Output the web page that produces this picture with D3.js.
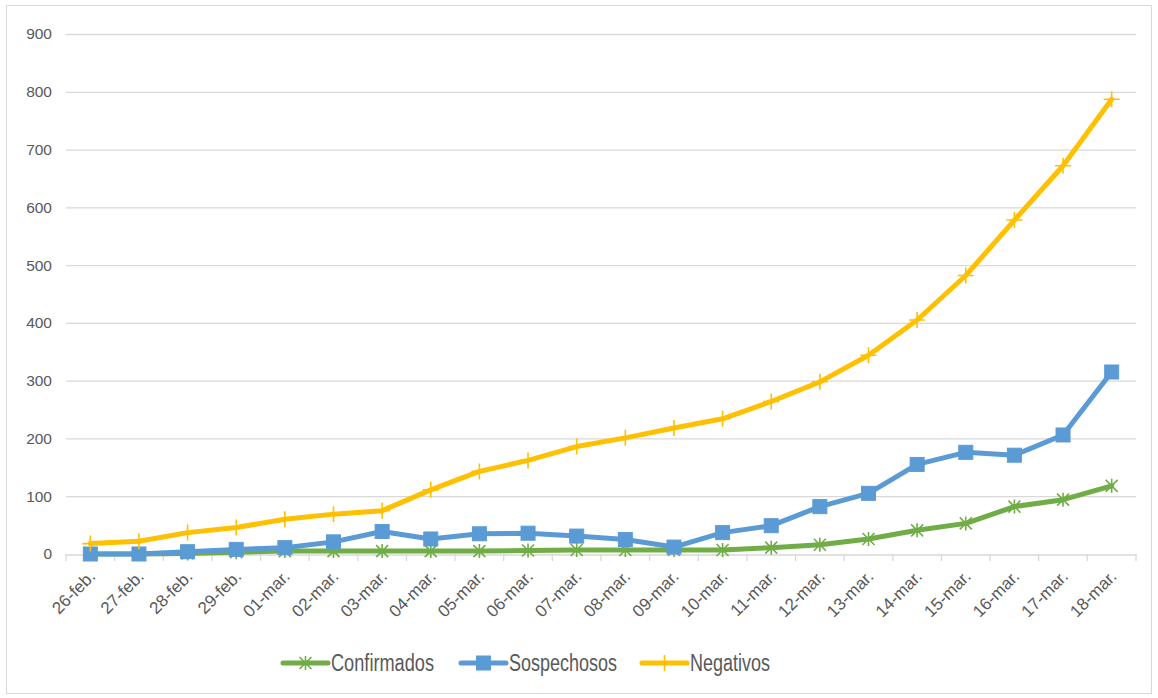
<html>
<script src='https://d3js.org/d3.v7.min.js'></script>
<style>
body {margin:0; background:white;}
.tick text {font-family: 'Liberation Sans', Arial, sans-serif; fill:#595959;}
.legend text {font-family: 'Liberation Sans', Arial, sans-serif; fill:#595959;}
</style>
<body>
<svg width=1158 height=698></svg>
<script>
var dates = ['26-feb.','27-feb.','28-feb.','29-feb.','01-mar.','02-mar.','03-mar.','04-mar.','05-mar.','06-mar.','07-mar.',
  '08-mar.','09-mar.','10-mar.','11-mar.','12-mar.','13-mar.','14-mar.','15-mar.','16-mar.','17-mar.','18-mar.'];
var confirmados = [0,0,1,3,5,5,5,5,5,6,7,7,7,7,11,16,26,41,53,82,94,118];
var sospechosos = [0,0,4,8,11,21,39,26,35,36,31,25,12,37,49,82,105,155,176,171,206,315];
var negativos = [18,22,37,46,60,69,75,111,143,162,186,201,218,234,264,298,344,405,482,578,672,787];
var yTicks = [0,100,200,300,400,500,600,700,800,900];

var series = [
  {name:'Confirmados', values:confirmados, color:'#70ad47', marker:'star'},
  {name:'Sospechosos', values:sospechosos, color:'#5b9bd5', marker:'square'},
  {name:'Negativos', values:negativos, color:'#ffc000', marker:'plus'}
];

var svg = d3.select('svg');
svg.append('rect').attr('x',6.5).attr('y',5.5).attr('width',1145).attr('height',688)
  .attr('fill','white').attr('stroke','#d9d9d9');

var x = d3.scaleBand().domain(dates).range([66,1136]);
var y = d3.scaleLinear().domain([0,900]).range([554,34]);

// grid
svg.append('g').selectAll('line').data(yTicks.filter(function(d){return d>0;})).enter()
  .append('line')
  .attr('x1',66).attr('x2',1136)
  .attr('y1',function(d){return y(d)+0.5;}).attr('y2',function(d){return y(d)+0.5;})
  .attr('stroke','#d9d9d9').attr('stroke-width',1.3);

var yAxis = svg.append('g').attr('transform','translate(66,0)')
  .call(d3.axisLeft(y).tickValues(yTicks).tickSize(0).tickPadding(14));
yAxis.select('.domain').remove();
yAxis.selectAll('text').style('font-size','15.5px');

// x axis with ticks between categories
var xAxis = svg.append('g').attr('transform','translate(0,554.5)')
  .call(d3.axisBottom(x).tickSize(0).tickSizeOuter(0));
xAxis.select('.domain').attr('stroke','#d9d9d9').attr('stroke-width',1.3);
xAxis.selectAll('.tick line').remove();
xAxis.selectAll('.tick text')
  .style('font-size','17px')
  .attr('text-anchor','end')
  .attr('y',0).attr('dy',0)
  .attr('transform','translate(6,23) rotate(-45)');
var edges = dates.map(function(d){return x(d);}).concat([x.range()[1]]);
svg.append('g').selectAll('line').data(edges).enter().append('line')
  .attr('x1',function(d){return d;}).attr('x2',function(d){return d;})
  .attr('y1',554).attr('y2',561)
  .attr('stroke','#d9d9d9').attr('stroke-width',1.3);

var line = d3.line()
  .x(function(d,i){return x(dates[i]) + x.bandwidth()/2;})
  .y(function(d){return y(d);});

function drawMarker(g, type, color, cx, cy) {
  if (type === 'square') {
    g.append('rect').attr('x',cx-7).attr('y',cy-7).attr('width',14).attr('height',14)
      .attr('fill',color).attr('stroke',color);
  } else if (type === 'star') {
    var s = 6;
    g.append('path')
      .attr('d','M'+(cx-s)+','+(cy-s)+'L'+(cx+s)+','+(cy+s)+'M'+(cx-s)+','+(cy+s)+'L'+(cx+s)+','+(cy-s)+
        'M'+cx+','+(cy-s-1)+'L'+cx+','+(cy+s+1))
      .attr('stroke',color).attr('stroke-width',1.6).attr('fill','none');
  } else {
    var p = 8;
    g.append('path')
      .attr('d','M'+(cx-p)+','+cy+'L'+(cx+p)+','+cy+'M'+cx+','+(cy-p)+'L'+cx+','+(cy+p))
      .attr('stroke',color).attr('stroke-width',1.6).attr('fill','none');
  }
}

series.forEach(function(s) {
  var g = svg.append('g');
  g.append('path').datum(s.values)
    .attr('d',line).attr('fill','none')
    .attr('stroke',s.color).attr('stroke-width',5)
    .attr('stroke-linejoin','round').attr('stroke-linecap','round');
  s.values.forEach(function(v,i) {
    drawMarker(g, s.marker, s.color, x(dates[i]) + x.bandwidth()/2, y(v));
  });
});

// legend
var legX = [283, 461, 642];
var legW = [103, 108, 80];
var leg = svg.append('g').attr('class','legend');
series.forEach(function(s,i) {
  var g = leg.append('g');
  g.append('line').attr('x1',legX[i]).attr('x2',legX[i]+45).attr('y1',663).attr('y2',663)
    .attr('stroke',s.color).attr('stroke-width',5).attr('stroke-linecap','round');
  drawMarker(g, s.marker, s.color, legX[i]+22.5, 663);
  g.append('text').attr('x',legX[i]+48).attr('y',663).attr('dy','0.36em')
    .attr('textLength',legW[i]).attr('lengthAdjust','spacingAndGlyphs')
    .style('font-size','23px').text(s.name);
});
</script>
</body>
</html>
